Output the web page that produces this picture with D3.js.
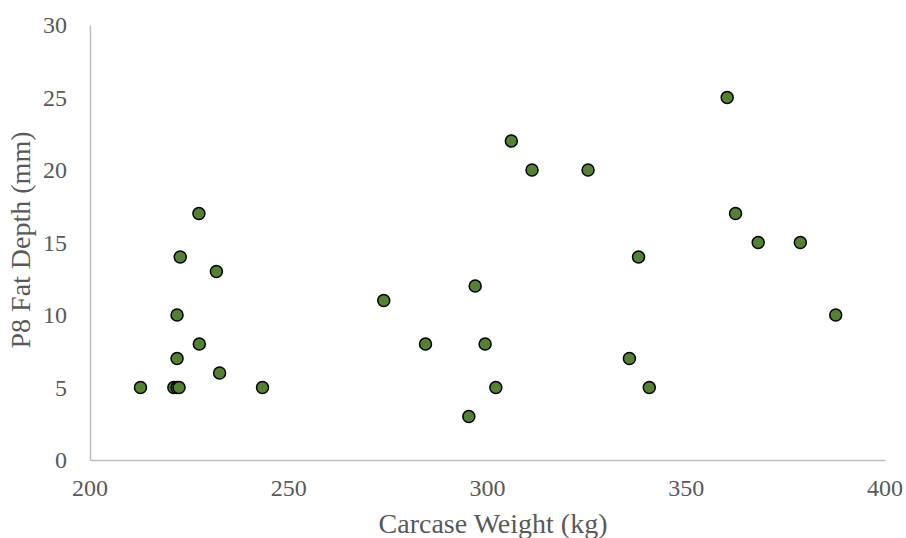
<!DOCTYPE html>
<html>
<head>
<meta charset="utf-8">
<script src="https://cdn.jsdelivr.net/npm/d3@7"></script>
<style>
  html, body { margin: 0; padding: 0; background: #fff; }
</style>
</head>
<body>
<svg id="chart" width="906" height="538"></svg>
<script>
// Carcase weight (kg) for each animal
const carcaseWeight = [
  227.4, 222.7, 231.8, 221.9, 227.5, 221.9, 232.6, 212.7, 221.1, 221.9, 222.4, 243.4,
  306.0, 311.2, 325.3, 296.9, 273.9, 284.4, 299.4, 302.1, 295.3,
  360.3, 362.4, 368.1, 378.7, 338.0, 387.6, 335.7, 340.7
];
// P8 fat depth (mm) for each animal
const fatDepth = [
  17, 14, 13, 10, 8, 7, 6, 5, 5, 5, 5, 5,
  22, 20, 20, 12, 11, 8, 8, 5, 3,
  25, 17, 15, 15, 14, 10, 7, 5
];
const xTicks = [200, 250, 300, 350, 400];
const yTicks = [0, 5, 10, 15, 20, 25, 30];

const FONT = '"Liberation Serif", "Times New Roman", Times, serif';
const TEXT_COLOR = "#595959";

const svg = d3.select("#chart");
const plot = { left: 90, right: 885, top: 25, bottom: 460 };

const x = d3.scaleLinear().domain([200, 400]).range([plot.left, plot.right]);
const y = d3.scaleLinear().domain([0, 30]).range([plot.bottom, plot.top]);

// Axis lines (no tick marks)
const xAxis = svg.append("g").attr("transform", `translate(0,${plot.bottom})`)
  .call(d3.axisBottom(x).tickValues([]).tickSizeOuter(0));
const yAxis = svg.append("g").attr("transform", `translate(${plot.left},0)`)
  .call(d3.axisLeft(y).tickValues([]).tickSizeOuter(0));
[xAxis, yAxis].forEach(g =>
  g.select(".domain").attr("stroke", "#bfbfbf").attr("stroke-width", 1.5));

// Tick labels
svg.append("g").selectAll("text").data(xTicks).join("text")
  .attr("x", d => x(d))
  .attr("y", plot.bottom + 36)
  .attr("text-anchor", "middle")
  .attr("font-family", FONT)
  .attr("font-size", 24)
  .attr("fill", TEXT_COLOR)
  .text(d => d);

svg.append("g").selectAll("text").data(yTicks).join("text")
  .attr("x", plot.left - 23)
  .attr("y", d => y(d))
  .attr("dy", "0.34em")
  .attr("text-anchor", "end")
  .attr("font-family", FONT)
  .attr("font-size", 24)
  .attr("fill", TEXT_COLOR)
  .text(d => d);

// Data points
const pts = carcaseWeight.map((w, i) => ({ w, f: fatDepth[i] }));
svg.append("g").selectAll("circle").data(pts).join("circle")
  .attr("cx", d => x(d.w))
  .attr("cy", d => y(d.f))
  .attr("r", 6)
  .attr("fill", "#548235")
  .attr("stroke", "#000")
  .attr("stroke-width", 1.5);

// Axis titles
svg.append("text")
  .attr("x", 493).attr("y", 533)
  .attr("text-anchor", "middle")
  .attr("font-family", FONT)
  .attr("font-size", 28)
  .attr("fill", TEXT_COLOR)
  .text("Carcase Weight (kg)");

svg.append("text")
  .attr("transform", `translate(30,240) rotate(-90)`)
  .attr("text-anchor", "middle")
  .attr("font-family", FONT)
  .attr("font-size", 28)
  .attr("fill", TEXT_COLOR)
  .text("P8 Fat Depth (mm)");
</script>
</body>
</html>
